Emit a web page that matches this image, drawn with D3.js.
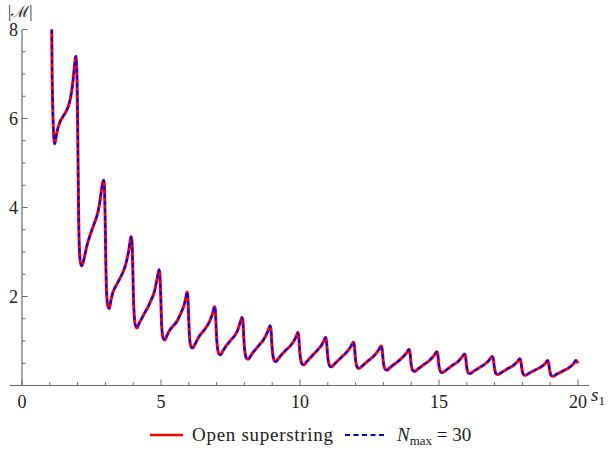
<!DOCTYPE html>
<html>
<head>
<meta charset="utf-8">
<script src="https://cdn.jsdelivr.net/npm/d3@7/dist/d3.min.js"></script>
<style>
  html, body { margin: 0; padding: 0; background: #fff; }
  svg { display: block; }
  text { font-family: "Liberation Serif", "Times New Roman", serif; fill: #222; }
</style>
</head>
<body>
<svg id="chart" width="613" height="452"></svg>
<script>
// |M| as a function of s1 for the open superstring amplitude (solid)
// and its N_max = 30 truncation (dashed), which coincide at this scale.
const s1 = [
  1.07, 1.08, 1.10, 1.13, 1.16, 1.18, 1.21, 1.25, 1.31, 1.37, 1.46, 1.55, 1.62, 1.69, 1.75, 1.80, 1.85, 1.89, 1.92, 1.94, 1.96, 1.98, 2.00, 2.02, 2.04, 2.07, 2.11, 2.15,
  2.20, 2.25, 2.33, 2.42, 2.51, 2.60, 2.69, 2.76, 2.81, 2.86, 2.90, 2.94, 2.96, 2.98, 3.00, 3.02, 3.05, 3.09, 3.14,
  3.20, 3.28, 3.37, 3.46, 3.55, 3.64, 3.71, 3.77, 3.83, 3.88, 3.92, 3.95, 3.97, 3.99, 4.01, 4.04, 4.08, 4.14,
  4.20, 4.31, 4.42, 4.54, 4.63, 4.72, 4.79, 4.85, 4.90, 4.93, 4.96, 4.98, 5.00, 5.02, 5.05, 5.09, 5.14,
  5.20, 5.32, 5.44, 5.56, 5.66, 5.74, 5.81, 5.86, 5.91, 5.94, 5.96, 5.98, 6.00, 6.02, 6.05, 6.09, 6.14,
  6.20, 6.30, 6.40, 6.52, 6.64, 6.74, 6.82, 6.88, 6.92, 6.95, 6.97, 6.99, 7.02, 7.06, 7.10, 7.15,
  7.22, 7.32, 7.42, 7.54, 7.66, 7.75, 7.82, 7.87, 7.91, 7.94, 7.96, 7.98, 8.01, 8.05, 8.09, 8.14,
  8.22, 8.33, 8.44, 8.56, 8.68, 8.77, 8.84, 8.89, 8.92, 8.95, 8.97, 8.99, 9.02, 9.06, 9.10, 9.14,
  9.22, 9.35, 9.50, 9.65, 9.76, 9.84, 9.89, 9.92, 9.95, 9.97, 9.99, 10.02, 10.06, 10.10, 10.14,
  10.22, 10.35, 10.50, 10.65, 10.76, 10.84, 10.89, 10.92, 10.95, 10.97, 10.99, 11.02, 11.06, 11.10, 11.14,
  11.22, 11.35, 11.50, 11.65, 11.76, 11.84, 11.89, 11.92, 11.95, 11.97, 11.99, 12.02, 12.06, 12.10, 12.14,
  12.22, 12.35, 12.50, 12.65, 12.76, 12.84, 12.89, 12.92, 12.95, 12.97, 12.99, 13.02, 13.06, 13.10, 13.14,
  13.22, 13.35, 13.50, 13.65, 13.76, 13.84, 13.89, 13.92, 13.95, 13.97, 13.99, 14.02, 14.06, 14.10, 14.14,
  14.22, 14.35, 14.50, 14.65, 14.76, 14.84, 14.89, 14.92, 14.95, 14.97, 14.99, 15.02, 15.06, 15.10, 15.14,
  15.22, 15.35, 15.50, 15.65, 15.76, 15.84, 15.89, 15.92, 15.95, 15.97, 15.99, 16.02, 16.06, 16.10, 16.14,
  16.22, 16.35, 16.50, 16.65, 16.76, 16.84, 16.89, 16.92, 16.95, 16.97, 16.99, 17.02, 17.06, 17.10, 17.14,
  17.22, 17.35, 17.50, 17.65, 17.76, 17.84, 17.88, 17.91, 17.94, 17.96, 17.98, 18.01, 18.05, 18.09, 18.13,
  18.22, 18.35, 18.50, 18.65, 18.76, 18.84, 18.88, 18.91, 18.94, 18.96, 18.98, 19.01, 19.05, 19.09, 19.13,
  19.22, 19.35, 19.50, 19.65, 19.76, 19.84, 19.89, 19.92, 19.96, 20.00
];
const ampOpen = [
  8.00, 7.20, 6.40, 5.75, 5.48, 5.43, 5.52, 5.67, 5.82, 5.93, 6.03, 6.12, 6.20, 6.32, 6.48, 6.68, 6.94, 7.20, 7.37, 7.40, 7.28, 6.90, 6.00, 4.80, 3.70, 3.00, 2.74, 2.69,
  2.76, 2.90, 3.13, 3.32, 3.49, 3.64, 3.80, 3.98, 4.17, 4.40, 4.56, 4.61, 4.52, 4.10, 3.40, 2.60, 2.00, 1.78, 1.73,
  1.92, 2.11, 2.23, 2.33, 2.44, 2.56, 2.68, 2.82, 3.00, 3.20, 3.34, 3.28, 3.00, 2.50, 1.95, 1.55, 1.35, 1.29,
  1.38, 1.51, 1.64, 1.77, 1.90, 2.03, 2.18, 2.37, 2.53, 2.60, 2.50, 2.20, 1.80, 1.40, 1.15, 1.05, 1.02,
  1.10, 1.25, 1.34, 1.43, 1.55, 1.66, 1.77, 1.88, 2.02, 2.10, 2.05, 1.80, 1.45, 1.15, 0.95, 0.86, 0.84,
  0.90, 1.02, 1.13, 1.22, 1.32, 1.43, 1.55, 1.68, 1.77, 1.72, 1.50, 1.20, 0.92, 0.75, 0.70, 0.69,
  0.77, 0.87, 0.95, 1.04, 1.13, 1.23, 1.36, 1.46, 1.53, 1.48, 1.30, 1.05, 0.80, 0.65, 0.60, 0.59,
  0.66, 0.76, 0.84, 0.93, 1.02, 1.12, 1.22, 1.30, 1.34, 1.29, 1.12, 0.90, 0.70, 0.58, 0.54, 0.54,
  0.60, 0.70, 0.80, 0.89, 0.98, 1.07, 1.15, 1.19, 1.13, 0.97, 0.78, 0.60, 0.50, 0.47, 0.46,
  0.52, 0.61, 0.71, 0.81, 0.89, 0.98, 1.05, 1.08, 1.02, 0.87, 0.70, 0.54, 0.45, 0.42, 0.42,
  0.47, 0.55, 0.64, 0.73, 0.81, 0.89, 0.95, 0.97, 0.92, 0.79, 0.63, 0.49, 0.41, 0.39, 0.39,
  0.43, 0.50, 0.58, 0.66, 0.74, 0.81, 0.87, 0.89, 0.84, 0.72, 0.57, 0.44, 0.37, 0.35, 0.35,
  0.39, 0.46, 0.53, 0.61, 0.68, 0.74, 0.79, 0.81, 0.77, 0.66, 0.52, 0.40, 0.34, 0.32, 0.32,
  0.36, 0.42, 0.49, 0.56, 0.63, 0.69, 0.74, 0.76, 0.72, 0.62, 0.49, 0.37, 0.31, 0.29, 0.29,
  0.33, 0.39, 0.46, 0.52, 0.59, 0.65, 0.69, 0.71, 0.67, 0.57, 0.45, 0.34, 0.28, 0.27, 0.27,
  0.31, 0.36, 0.42, 0.48, 0.54, 0.60, 0.64, 0.65, 0.61, 0.52, 0.41, 0.31, 0.26, 0.25, 0.25,
  0.28, 0.33, 0.39, 0.44, 0.50, 0.55, 0.59, 0.60, 0.56, 0.48, 0.38, 0.29, 0.24, 0.23, 0.23,
  0.27, 0.31, 0.36, 0.41, 0.46, 0.51, 0.55, 0.56, 0.52, 0.44, 0.35, 0.26, 0.22, 0.21, 0.21,
  0.25, 0.29, 0.34, 0.39, 0.44, 0.49, 0.54, 0.56, 0.54, 0.50
];
// The truncated sum is indistinguishable from the full result here.
const ampNmax30 = ampOpen;

const xDomain = [0, 20];
const yDomain = [0, 8];
const xMajor = [0, 5, 10, 15, 20];
const yMajor = [2, 4, 6, 8];
const seriesNames = ["Open superstring", "N_max = 30"];

const svg = d3.select("#chart");
const x = d3.scaleLinear().domain(xDomain).range([22, 578]);
const y = d3.scaleLinear().domain(yDomain).range([385.5, 29.5]);
const axisColor = "#6b6b6b";

// Axes
const xAxisG = svg.append("g");
xAxisG.append("line").attr("x1", 10).attr("x2", 589).attr("y1", y(0)).attr("y2", y(0))
  .attr("stroke", axisColor).attr("stroke-width", 1.2);
d3.range(0, 21, 1).forEach(v => {
  const major = v % 5 === 0;
  xAxisG.append("line").attr("x1", x(v)).attr("x2", x(v))
    .attr("y1", y(0)).attr("y2", y(0) - (major ? 6 : 3.5))
    .attr("stroke", axisColor).attr("stroke-width", 1);
});
xAxisG.selectAll("text.xt").data(xMajor).enter().append("text")
  .attr("x", d => x(d)).attr("y", 408).attr("text-anchor", "middle")
  .attr("font-size", 18).text(d => d);

const yAxisG = svg.append("g");
yAxisG.append("line").attr("x1", x(0)).attr("x2", x(0)).attr("y1", y(8)).attr("y2", y(0))
  .attr("stroke", axisColor).attr("stroke-width", 1.2);
d3.range(0.5, 8.01, 0.5).forEach(v => {
  const major = Math.abs(v % 2) < 1e-9;
  yAxisG.append("line").attr("x1", x(0)).attr("x2", x(0) + (major ? 5.5 : 3.5))
    .attr("y1", y(v)).attr("y2", y(v))
    .attr("stroke", axisColor).attr("stroke-width", 1);
});
yAxisG.selectAll("text.yt").data(yMajor).enter().append("text")
  .attr("x", 18).attr("y", d => y(d) + 6.5).attr("text-anchor", "end")
  .attr("font-size", 18).text(d => d);

// Axis labels
svg.append("text").attr("x", 8).attr("y", 17)
  .attr("font-family", "DejaVu Sans, sans-serif").attr("font-size", 16).text("|ℳ|");
const sLab = svg.append("text").attr("x", 591).attr("y", 401).attr("font-size", 19);
sLab.append("tspan").attr("font-style", "italic").text("s");
sLab.append("tspan").attr("font-size", 13).attr("dy", 4).text("1");

// Curves
svg.append("defs").append("clipPath").attr("id", "plotClip")
  .append("rect").attr("x", x(0)).attr("y", y(8) - 1).attr("width", x(20) - x(0) + 4).attr("height", y(0) - y(8) + 1);

const line = d3.line().x(d => x(d[0])).y(d => y(d[1])).curve(d3.curveMonotoneX);
const plot = svg.append("g").attr("clip-path", "url(#plotClip)");
plot.append("path").datum(s1.map((s, i) => [s, ampOpen[i]]))
  .attr("d", line).attr("fill", "none").attr("stroke", "#ff0000")
  .attr("stroke-width", 3).attr("stroke-linejoin", "round");
plot.append("path").datum(s1.map((s, i) => [s, ampNmax30[i]]))
  .attr("d", line).attr("fill", "none").attr("stroke", "#0000ff")
  .attr("stroke-width", 2).attr("stroke-dasharray", "4.5,3");

// Legend
const lg = svg.append("g");
const ly = 435;
lg.append("line").attr("x1", 150).attr("x2", 183).attr("y1", ly).attr("y2", ly)
  .attr("stroke", "#ff0000").attr("stroke-width", 2.5);
lg.append("text").attr("x", 192).attr("y", ly + 6).attr("font-size", 19)
  .attr("textLength", 141).attr("lengthAdjust", "spacing").text(seriesNames[0]);
lg.append("line").attr("x1", 345).attr("x2", 386).attr("y1", ly).attr("y2", ly)
  .attr("stroke", "#0000ff").attr("stroke-width", 2).attr("stroke-dasharray", "5,3.5");
const nt = lg.append("text").attr("x", 397).attr("y", ly + 6).attr("font-size", 19);
nt.append("tspan").attr("font-style", "italic").text("N");
nt.append("tspan").attr("font-size", 13).attr("dy", 4).text("max");
nt.append("tspan").attr("dy", -4).text(" = 30");
</script>
</body>
</html>
